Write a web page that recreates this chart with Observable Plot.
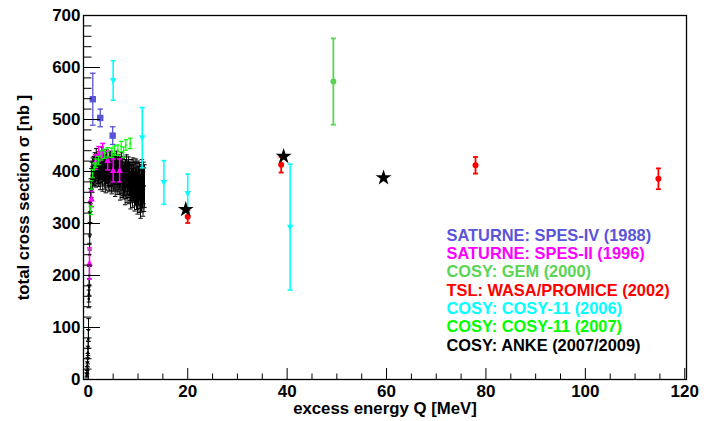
<!DOCTYPE html>
<html>
<head>
<meta charset="utf-8">
<script src="https://cdn.jsdelivr.net/npm/d3@7"></script>
<script src="https://cdn.jsdelivr.net/npm/@observablehq/plot@0.6"></script>
<style>
  html, body { margin: 0; padding: 0; background: #fff; }
  #chart { width: 719px; height: 421px; }
</style>
</head>
<body>
<div id="chart"></div>
<script>
// ---------- data ----------
// SATURNE SPES-IV (1988)
const spes4Q = [0.9, 2.4, 4.9];
const spes4S = [539, 503, 469];
const spes4E = [50, 17, 17];
// SATURNE SPES-II (1996)
const spes2Q = [0.24, 0.62, 1.45, 2.1, 2.9, 3.9, 5.0, 6.3];
const spes2S = [223, 347, 418, 434, 440, 421, 402, 402];
const spes2E = [30, 15, 14, 14, 14, 18, 22, 22];
// COSY GEM (2000)
const gemQ = [49.3];
const gemS = [573];
const gemE = [83];
// TSL WASA/PROMICE (2002)
const tslQ = [20.0, 38.8, 77.9, 114.7];
const tslS = [313, 413, 412, 386];
const tslE = [12, 15, 16, 20];
// COSY-11 (2006)
const c11aQ = [5.0, 10.85, 15.2, 20.0, 40.6];
const c11aS = [575, 465, 379, 358, 293];
const c11aE = [38, 58, 42, 37, 121];
// COSY-11 (2007)
const c11bQ = [0.5, 0.58, 0.85, 1.19, 1.51, 2.05, 2.6, 3.26, 3.92, 4.73, 5.27, 5.94, 6.62, 7.08, 7.55, 8.43];
const c11bS = [325, 374, 396, 408, 416, 421, 431, 434, 437, 436, 440, 441, 448, 437, 451, 454];
const c11bE = [8, 8, 8, 8, 8, 8, 9, 9, 9, 9, 9, 10, 10, 10, 10, 10];
// ANKE (2007) near threshold
const ankeThrQ = [-0.32, -0.28, -0.24, -0.2, -0.16, -0.12, -0.08, -0.04, 0.0, 0.04, 0.08, 0.12, 0.16, 0.2, 0.24, 0.28, 0.32, 0.36, 0.42, 0.48];
const ankeThrS = [8, 12, 18, 26, 33, 40, 52, 60, 78, 95, 155, 165, 178, 200, 240, 275, 300, 322, 345, 362];
const ankeThrE = [5, 6, 7, 8, 9, 10, 12, 14, 18, 22, 17, 16, 16, 18, 22, 26, 22, 20, 22, 24];
// ANKE (2007) above threshold
const ankeQ = [
  0.6, 0.7, 0.8, 0.9, 1.0,
  1.1, 1.2, 1.3, 1.4, 1.5, 1.6, 1.7, 1.8, 1.9, 2.0,
  2.1, 2.2, 2.3, 2.4, 2.5, 2.6, 2.7, 2.8, 2.9, 3.0,
  3.1, 3.2, 3.3, 3.4, 3.5, 3.6, 3.7, 3.8, 3.9, 4.0,
  4.1, 4.2, 4.3, 4.4, 4.5, 4.6, 4.7, 4.8, 4.9, 5.0,
  5.1, 5.2, 5.3, 5.4, 5.5, 5.6, 5.7, 5.8, 5.9, 6.0,
  6.1, 6.2, 6.3, 6.4, 6.5, 6.6, 6.7, 6.8, 6.9, 7.0,
  7.1, 7.2, 7.3, 7.4, 7.5, 7.6, 7.7, 7.8, 7.9, 8.0,
  8.1, 8.2, 8.3, 8.4, 8.5, 8.6, 8.7, 8.8, 8.9, 9.0,
  9.1, 9.2, 9.3, 9.4, 9.5, 9.6, 9.7, 9.8, 9.9, 10.0,
  10.1, 10.2, 10.3, 10.4, 10.5, 10.6, 10.7, 10.8, 10.9, 11.0,
  11.1, 11.2, 11.3
];
const ankeS = [
  378, 392, 385, 401, 396,
  405, 398, 412, 403, 395, 418, 407, 399, 410, 402,
  396, 414, 405, 390, 409, 401, 420, 397, 388, 406,
  412, 399, 393, 408, 385, 402, 415, 396, 404, 391,
  400, 387, 409, 398, 413, 392, 384, 405, 396, 401,
  389, 407, 395, 380, 402, 393, 411, 386, 398, 390,
  403, 384, 396, 376, 399, 388, 407, 381, 394, 386,
  378, 398, 385, 369, 392, 380, 401, 374, 388, 383,
  395, 372, 386, 379, 364, 390, 376, 383, 368, 392,
  377, 385, 362, 381, 371, 389, 366, 379, 358, 384,
  372, 361, 380, 368, 352, 375, 363, 386, 370, 357,
  378, 365, 372
];
const ankeE = [
  28, 26, 25, 25, 24,
  24, 25, 24, 23, 25, 26, 24, 25, 24, 25,
  25, 24, 26, 25, 24, 25, 27, 25, 26, 25,
  26, 25, 27, 25, 26, 25, 27, 26, 25, 27,
  27, 26, 28, 27, 26, 28, 27, 26, 28, 27,
  28, 27, 29, 28, 27, 29, 28, 30, 28, 29,
  29, 28, 30, 31, 29, 30, 29, 31, 30, 32,
  31, 30, 32, 33, 31, 32, 31, 34, 32, 33,
  33, 34, 32, 35, 36, 33, 35, 34, 37, 34,
  36, 35, 38, 36, 37, 35, 39, 37, 40, 36,
  38, 40, 37, 39, 42, 38, 41, 37, 40, 43,
  40, 42, 41
];
// ANKE (2009) stars
const anke09Q = [19.6, 39.3, 59.4];
const anke09S = [327, 429, 388];

// axis ticks
const xMajor = [0, 20, 40, 60, 80, 100, 120];
const xMinor = d3.range(0, 121, 5).filter(v => v % 20 !== 0);
const yMajor = [0, 100, 200, 300, 400, 500, 600, 700];
const yMinor = d3.range(0, 701, 20).filter(v => v % 100 !== 0);

// legend
const legendLabels = [
  "SATURNE: SPES-IV (1988)",
  "SATURNE: SPES-II (1996)",
  "COSY: GEM (2000)",
  "TSL: WASA/PROMICE (2002)",
  "COSY: COSY-11 (2006)",
  "COSY: COSY-11 (2007)",
  "COSY: ANKE (2007/2009)"
];
const legendColors = ["#5a55d8", "#ff00ff", "#59d454", "#ff0000", "#00ffff", "#00ff00", "#000000"];

// ---------- helpers ----------
const series = (Q, S, E) => Q.map((q, i) => ({q, s: S[i], e: E ? E[i] : 0}));

const symSquare = {draw(c, size) { const r = Math.sqrt(size / Math.PI); c.rect(-r, -r, 2 * r, 2 * r); }};
const symTriUp = {draw(c, size) { const r = Math.sqrt(size / Math.PI); c.moveTo(0, -1.15 * r); c.lineTo(r, 0.75 * r); c.lineTo(-r, 0.75 * r); c.closePath(); }};
const symTriDown = {draw(c, size) { const r = Math.sqrt(size / Math.PI); c.moveTo(0, 1.15 * r); c.lineTo(r, -0.75 * r); c.lineTo(-r, -0.75 * r); c.closePath(); }};
const symCap = {draw(c, size) { const r = Math.sqrt(size / Math.PI); c.moveTo(-r, 0); c.lineTo(r, 0); }};

function errorMarks(data, color, sw, capR) {
  return [
    Plot.ruleX(data, {x: "q", y1: d => d.s - d.e, y2: d => d.s + d.e, stroke: color, strokeWidth: sw}),
    Plot.dot(data, {x: "q", y: d => d.s + d.e, symbol: symCap, r: capR, stroke: color, strokeWidth: sw, fill: "none"}),
    Plot.dot(data, {x: "q", y: d => d.s - d.e, symbol: symCap, r: capR, stroke: color, strokeWidth: sw, fill: "none"})
  ];
}

const spes4 = series(spes4Q, spes4S, spes4E);
const spes2 = series(spes2Q, spes2S, spes2E);
const gem = series(gemQ, gemS, gemE);
const tsl = series(tslQ, tslS, tslE);
const c11a = series(c11aQ, c11aS, c11aE);
const c11b = series(c11bQ, c11bS, c11bE);
const ankeThr = series(ankeThrQ, ankeThrS, ankeThrE);
const anke = series(ankeQ, ankeS, ankeE);
const anke09 = series(anke09Q, anke09S);

const font = "'Liberation Sans', Arial, Helvetica, sans-serif";

const legendMarks = legendLabels.map((label, i) =>
  Plot.text([label], {
    frameAnchor: "top-left", dx: 363, dy: 220 + i * 18.3,
    text: d => d, fill: legendColors[i], fontSize: 16.4, fontWeight: "bold",
    textAnchor: "start", lineAnchor: "middle"
  })
);

const chart = Plot.plot({
  width: 719, height: 421,
  marginLeft: 83, marginRight: 33, marginTop: 15, marginBottom: 42,
  style: {fontFamily: font, fontWeight: "bold", background: "#fff", color: "#000", overflow: "visible"},
  x: {domain: [-0.97, 120.35], axis: null},
  y: {domain: [0, 700], axis: null},
  marks: [
    // ANKE 2007 (black) first
    ...errorMarks(ankeThr, "#000", 1, 2.2),
    ...errorMarks(anke, "#000", 1, 2.2),
    Plot.dot(ankeThr, {x: "q", y: "s", r: 1.3, fill: "#000"}),
    Plot.dot(anke, {x: "q", y: "s", r: 1.3, fill: "#000"}),
    // SPES-IV
    ...errorMarks(spes4, "#5a55d8", 1.3, 2.8),
    Plot.dot(spes4, {x: "q", y: "s", symbol: symSquare, r: 3.2, fill: "#5a55d8"}),
    // SPES-II
    ...errorMarks(spes2, "#ff00ff", 1.5, 2.5),
    Plot.dot(spes2, {x: "q", y: "s", symbol: symTriUp, r: 3.3, fill: "#ff00ff"}),
    // GEM
    ...errorMarks(gem, "#59d454", 1.8, 2.5),
    Plot.dot(gem, {x: "q", y: "s", r: 3, fill: "#59d454"}),
    // TSL
    ...errorMarks(tsl, "#ff0000", 1.8, 2.5),
    Plot.dot(tsl, {x: "q", y: "s", r: 3, fill: "#ff0000"}),
    // COSY-11 2006
    ...errorMarks(c11a, "#00ffff", 1.6, 2.5),
    Plot.dot(c11a, {x: "q", y: "s", symbol: symTriDown, r: 3.2, fill: "#00ffff"}),
    // COSY-11 2007
    ...errorMarks(c11b, "#00ff00", 1.2, 2.3),
    Plot.dot(c11b, {x: "q", y: "s", r: 1, fill: "#00ff00"}),
    // ANKE 2009 stars
    Plot.dot(anke09, {x: "q", y: "s", symbol: "star", r: 5, fill: "#000"}),
    // frame and axes
    Plot.frame({stroke: "#000", strokeWidth: 1.3}),
    Plot.axisX(xMajor, {anchor: "bottom", tickSize: -11, fill: "none", label: null}),
    Plot.axisX(xMinor, {anchor: "bottom", tickSize: -5.5, fill: "none", label: null}),
    Plot.axisY(yMajor, {anchor: "left", tickSize: -17, fill: "none", label: null}),
    Plot.axisY(yMinor, {anchor: "left", tickSize: -8.5, fill: "none", label: null}),
    // tick labels positioned through the scales
    Plot.text(xMajor, {x: d => d, frameAnchor: "bottom", dy: 5, text: d => String(d), lineAnchor: "top", fontSize: 17, fontWeight: "bold"}),
    Plot.text(yMajor, {y: d => d, frameAnchor: "left", dx: -3, text: d => String(d), textAnchor: "end", lineAnchor: "middle", fontSize: 17, fontWeight: "bold"}),
    // axis titles
    Plot.text(["excess energy Q [MeV]"], {frameAnchor: "bottom", dy: 29, text: d => d, fontSize: 16.8, fontWeight: "bold", lineAnchor: "middle"}),
    Plot.text(["total cross section σ [nb ]"], {frameAnchor: "left", dx: -60, rotate: -90, text: d => d, fontSize: 16.8, fontWeight: "bold", textAnchor: "middle", lineAnchor: "middle"}),
    ...legendMarks
  ]
});
document.getElementById("chart").appendChild(chart);
</script>
</body>
</html>
